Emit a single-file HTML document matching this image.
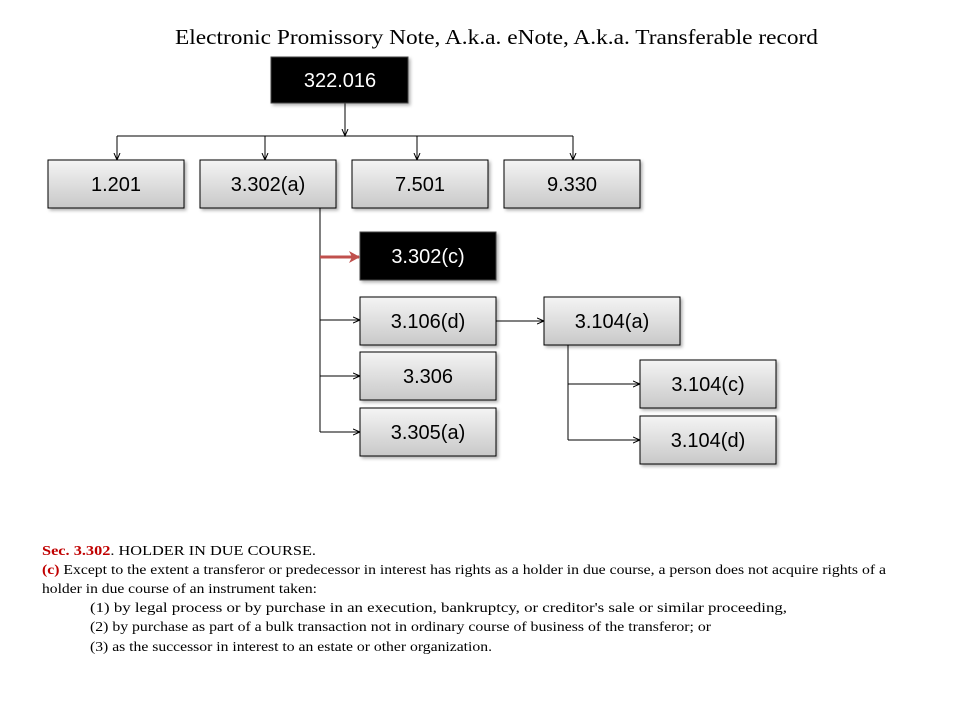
<!DOCTYPE html>
<html><head><meta charset="utf-8"><style>
html,body{margin:0;padding:0;background:#fff;width:960px;height:720px;overflow:hidden}
</style></head><body>
<svg width="960" height="720" xmlns="http://www.w3.org/2000/svg" style="position:absolute;left:0;top:0">
<defs>
<linearGradient id="g" x1="0" y1="0" x2="0" y2="1"><stop offset="0" stop-color="#f4f4f4"/><stop offset="1" stop-color="#c8c8c8"/></linearGradient>
<filter id="s" x="-10%" y="-10%" width="130%" height="140%"><feDropShadow dx="2" dy="2" stdDeviation="1.5" flood-color="#000" flood-opacity="0.3"/></filter>
<marker id="a" markerWidth="8" markerHeight="8" refX="7" refY="4" orient="auto" markerUnits="userSpaceOnUse"><path d="M0,1 L7,4 L0,7" fill="none" stroke="#000" stroke-width="1"/></marker>
<marker id="r" markerWidth="12" markerHeight="12" refX="10" refY="6" orient="auto" markerUnits="userSpaceOnUse"><path d="M0,0 L11,6 L0,12 L3,6 Z" fill="#c0504d"/></marker>
</defs>
<text x="175" y="44" textLength="643" lengthAdjust="spacingAndGlyphs" font-family="Liberation Serif, serif" font-size="21" fill="#000">Electronic Promissory Note, A.k.a. eNote, A.k.a. Transferable record</text>
<g stroke="#000" stroke-width="1" fill="none">
<line x1="345" y1="103" x2="345" y2="136" marker-end="url(#a)"/>
<line x1="117" y1="136" x2="573" y2="136"/>
<line x1="117" y1="136" x2="117" y2="160" marker-end="url(#a)"/>
<line x1="265" y1="136" x2="265" y2="160" marker-end="url(#a)"/>
<line x1="417" y1="136" x2="417" y2="160" marker-end="url(#a)"/>
<line x1="573" y1="136" x2="573" y2="160" marker-end="url(#a)"/>
<line x1="320" y1="208" x2="320" y2="432"/>
<line x1="320" y1="320" x2="360" y2="320" marker-end="url(#a)"/>
<line x1="320" y1="376" x2="360" y2="376" marker-end="url(#a)"/>
<line x1="320" y1="432" x2="360" y2="432" marker-end="url(#a)"/>
<line x1="496" y1="321" x2="544" y2="321" marker-end="url(#a)"/>
<line x1="568" y1="345" x2="568" y2="440"/>
<line x1="568" y1="384" x2="640" y2="384" marker-end="url(#a)"/>
<line x1="568" y1="440" x2="640" y2="440" marker-end="url(#a)"/>
</g>
<line x1="320" y1="257" x2="359" y2="257" stroke="#c0504d" stroke-width="3" marker-end="url(#r)"/>
<g font-family="Liberation Sans, sans-serif" font-size="20" text-anchor="middle">
<rect x="271" y="57" width="137" height="46" fill="#000" stroke="#444" filter="url(#s)"/>
<text x="340" y="87" fill="#fff">322.016</text>
<rect x="360" y="232" width="136" height="48" fill="#000" stroke="#444" filter="url(#s)"/>
<text x="428" y="263" fill="#fff">3.302(c)</text>
<g fill="url(#g)" stroke="#000" filter="url(#s)">
<rect x="48" y="160" width="136" height="48"/>
<rect x="200" y="160" width="136" height="48"/>
<rect x="352" y="160" width="136" height="48"/>
<rect x="504" y="160" width="136" height="48"/>
<rect x="360" y="297" width="136" height="48"/>
<rect x="360" y="352" width="136" height="48"/>
<rect x="360" y="408" width="136" height="48"/>
<rect x="544" y="297" width="136" height="48"/>
<rect x="640" y="360" width="136" height="48"/>
<rect x="640" y="416" width="136" height="48"/>
</g>
<g fill="#000">
<text x="116" y="191">1.201</text>
<text x="268" y="191">3.302(a)</text>
<text x="420" y="191">7.501</text>
<text x="572" y="191">9.330</text>
<text x="428" y="328">3.106(d)</text>
<text x="428" y="383">3.306</text>
<text x="428" y="439">3.305(a)</text>
<text x="612" y="328">3.104(a)</text>
<text x="708" y="391">3.104(c)</text>
<text x="708" y="447">3.104(d)</text>
</g>
</g>
<g font-family="Liberation Serif, serif" font-size="14" fill="#000">
<text x="42" y="555" textLength="274" lengthAdjust="spacingAndGlyphs"><tspan fill="#c00000" font-weight="bold">Sec. 3.302</tspan>.  HOLDER IN DUE COURSE.</text>
<text x="42" y="574" textLength="844" lengthAdjust="spacingAndGlyphs"><tspan fill="#c00000" font-weight="bold">(c)</tspan>  Except to the extent a transferor or predecessor in interest has rights as a holder in due course, a person does not acquire rights of a</text>
<text x="42" y="593" textLength="275" lengthAdjust="spacingAndGlyphs">holder in due course of an instrument taken:</text>
<text x="90" y="612" textLength="697" lengthAdjust="spacingAndGlyphs">(1)  by legal process or by purchase in an execution, bankruptcy, or creditor's sale or similar proceeding,</text>
<text x="90" y="631" textLength="621" lengthAdjust="spacingAndGlyphs">(2)  by purchase as part of a bulk transaction not in ordinary course of business of the transferor;  or</text>
<text x="90" y="651" textLength="402" lengthAdjust="spacingAndGlyphs">(3)  as the successor in interest to an estate or other organization.</text>
</g>
</svg>
</body></html>
